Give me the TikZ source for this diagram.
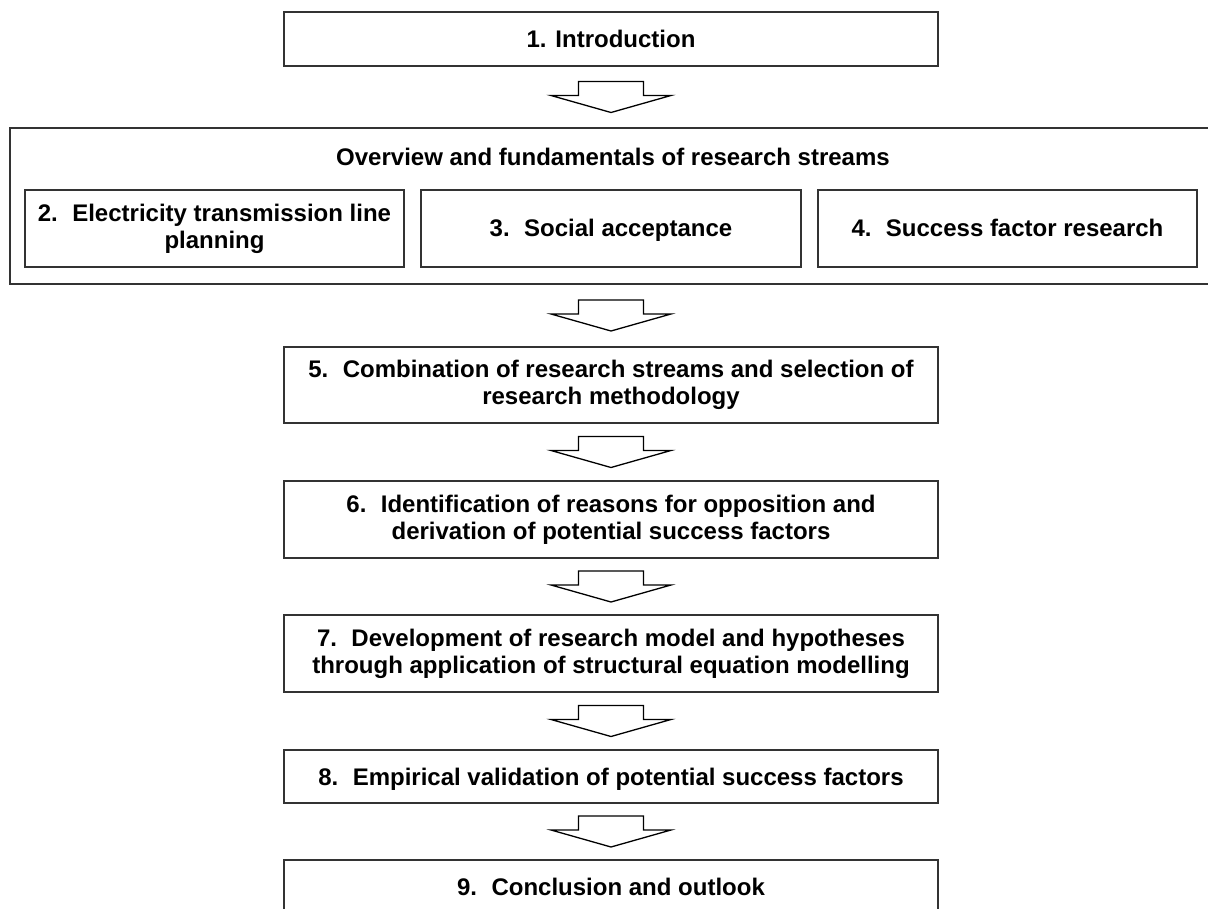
\documentclass[tikz,border=0pt]{standalone}
\usepackage{fontspec}
\setmainfont{Liberation Sans}
\usetikzlibrary{calc}
\definecolor{boxline}{gray}{0.2}
\newcommand\num[1]{#1.\hspace{0.6em}}
% hollow block arrow centred in the gap between two stacked nodes
\newcommand\flowarrow[2]{%
  \path ($(#1.south)!0.5!(#2.north)$) coordinate (m-#1);
  \draw[arrowline] ($(m-#1)+(-32.5,-15.5)$) -- ($(m-#1)+(32.5,-15.5)$)
    -- ($(m-#1)+(32.5,-1.5)$) -- ($(m-#1)+(60,-1.5)$) -- ($(m-#1)+(0,15.5)$)
    -- ($(m-#1)+(-60,-1.5)$) -- ($(m-#1)+(-32.5,-1.5)$) -- cycle;}
\begin{document}
\begin{tikzpicture}[x=1pt,y=-1pt,
  box/.style={draw=boxline, line width=1.8pt, fill=white, inner sep=0pt,
    align=center, font=\bfseries\fontsize{24}{27}\selectfont},
  oneline/.style={text height=17pt, text depth=0pt},
  label/.style={inner sep=0pt, font=\bfseries\fontsize{24}{27}\selectfont,
    text height=17pt, text depth=0pt},
  arrowline/.style={draw=black, line width=1.3pt, fill=white, line join=miter}]
\useasboundingbox (0,0) rectangle (1208,909);

\node[box, oneline, minimum width=654, minimum height=54] (intro) at (611,39) {1. Introduction};

\node[box, minimum width=1202, minimum height=156] (streams) at (611,206) {};
\node[label] (title) at (613,157) {Overview and fundamentals of research streams};
\node[box, minimum width=379, minimum height=77] (s2) at (214.5,228.5)
  {\num{2}Electricity transmission line\\planning};
\node[box, oneline, minimum width=380, minimum height=77] (s3) at (611,228.5)
  {\num{3}Social acceptance};
\node[box, oneline, minimum width=379, minimum height=77] (s4) at (1007.5,228.5)
  {\num{4}Success factor research};

\node[box, minimum width=654, minimum height=76] (c5) at (611,385)
  {\num{5}Combination of research streams and selection of\\research methodology};
\node[box, minimum width=654, minimum height=77] (c6) at (611,519.5)
  {\num{6}Identification of reasons for opposition and\\derivation of potential success factors};
\node[box, minimum width=654, minimum height=77] (c7) at (611,653.5)
  {\num{7}Development of research model and hypotheses\\through application of structural equation modelling};
\node[box, oneline, minimum width=654, minimum height=53] (c8) at (611,776.5)
  {\num{8}Empirical validation of potential success factors};
\node[box, oneline, minimum width=654, minimum height=54] (c9) at (611,887)
  {\num{9}Conclusion and outlook};

\flowarrow{intro}{streams}
\flowarrow{streams}{c5}
\flowarrow{c5}{c6}
\flowarrow{c6}{c7}
\flowarrow{c7}{c8}
\flowarrow{c8}{c9}
\end{tikzpicture}
\end{document}
